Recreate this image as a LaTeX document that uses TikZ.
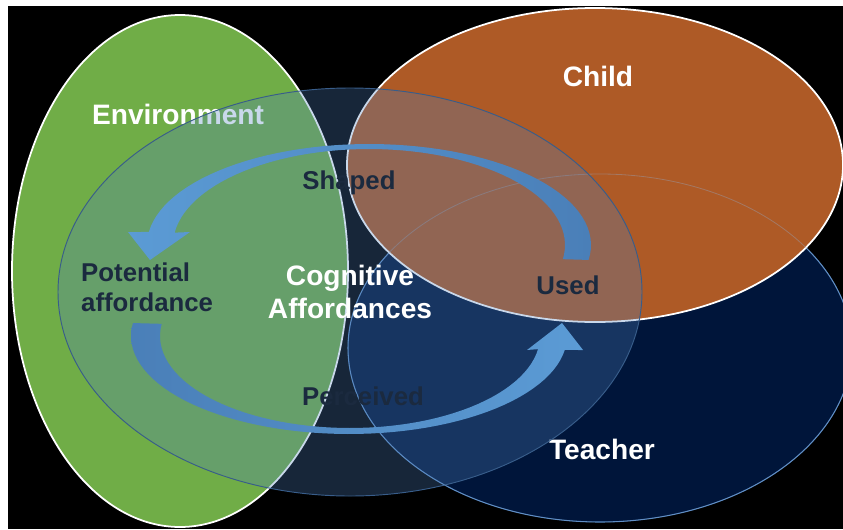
\documentclass[tikz,border=0pt]{standalone}
\usepackage{fontspec}
\setmainfont{Liberation Sans}
\usepackage{tikz}

\definecolor{envgreen}{HTML}{70AD47}
\definecolor{childorange}{HTML}{AE5A26}
\definecolor{teachernavy}{HTML}{00153A}
\definecolor{teacherline}{HTML}{4A7EBB}
\definecolor{cogblue}{HTML}{4F81BD}
\definecolor{cogline}{HTML}{385D8A}
\definecolor{arrowdark}{HTML}{4A7FB8}
\definecolor{arrowlight}{HTML}{5B9BD5}
\definecolor{labelnavy}{HTML}{1B2A3F}

\begin{document}
\begin{tikzpicture}[
				x=0.03cm, y=-0.03cm,
				setshape/.style={
					line width=1.5pt,
					draw=white
				},
				setlabel/.style={
					text=white,
					inner sep=0pt,
					font=\fontsize{24}{28.2}\selectfont\bfseries
				},
				flowlabel/.style={
					text=labelnavy,
					inner sep=0pt,
					font=\fontsize{22}{25.6}\selectfont\bfseries
				}
				]
				
				\useasboundingbox (0,0) rectangle (843,529);
				\fill[white] (0,0) rectangle (843,529);
				\fill[black] (8,6) rectangle (843,529);
				
				% Environment set
				\filldraw[setshape, fill=envgreen] (180,271) ellipse [x radius=168, y radius=256];
				\node[setlabel] (env) at (178,114) {Environment};
				
				% Teacher set
				\filldraw[setshape, draw=teacherline, line width=0.9pt, fill=teachernavy] (600,348) ellipse [x radius=252, y radius=174];
				
				% Child set (on top of teacher)
				\filldraw[setshape, fill=childorange] (595,165) ellipse [x radius=248, y radius=157];
				\draw[teacherline!60!white, line width=0.7pt, draw opacity=0.35] (600,348) ellipse [x radius=252, y radius=174];
				\node[setlabel] (child) at (598,76) {Child};
				\node[setlabel] (teacher) at (602,449) {Teacher};
				
				% Cognitive affordances: see-through layer over all three
				\filldraw[draw=cogline, line width=0.8pt, fill=cogblue, fill opacity=0.3] (350,292) ellipse [x radius=292, y radius=204];
				
				% Arrow 1: Used -> Potential affordance, round the top
				\shade[left color=arrowlight, right color=arrowdark]
					plot[domain=8.5:-172.6, samples=60] ({369+222*cos(\x)},{245+101*sin(\x)})
					-- (128,232) -- (150,260) -- (190,232)
					-- plot[domain=-172.6:8.5, samples=60] ({369+196*cos(\x)},{245+96*sin(\x)})
					-- cycle;
				
				% Arrow 2: Potential affordance -> Used, round the bottom
				\shade[left color=arrowdark, right color=arrowlight]
					plot[domain=187.6:8.2, samples=60] ({349+218*cos(\x)},{336+98*sin(\x)})
					-- (583,350) -- (562,323) -- (527,350)
					-- plot[domain=8.2:187.6, samples=60] ({350+190*cos(\x)},{336+92*sin(\x)})
					-- cycle;
				
				% Labels
				\node[setlabel, align=center] (cog) at (350,292) {Cognitive\\Affordances};
				\node[flowlabel, align=left, anchor=west] (potential) at (81,287) {Potential\\affordance};
				\node[flowlabel] (shaped) at (349,183) {Shaped};
				\node[flowlabel] (used) at (568,285) {Used};
				\node[flowlabel] (perceived) at (363,396) {Perceived};
				
\end{tikzpicture}
\end{document}
